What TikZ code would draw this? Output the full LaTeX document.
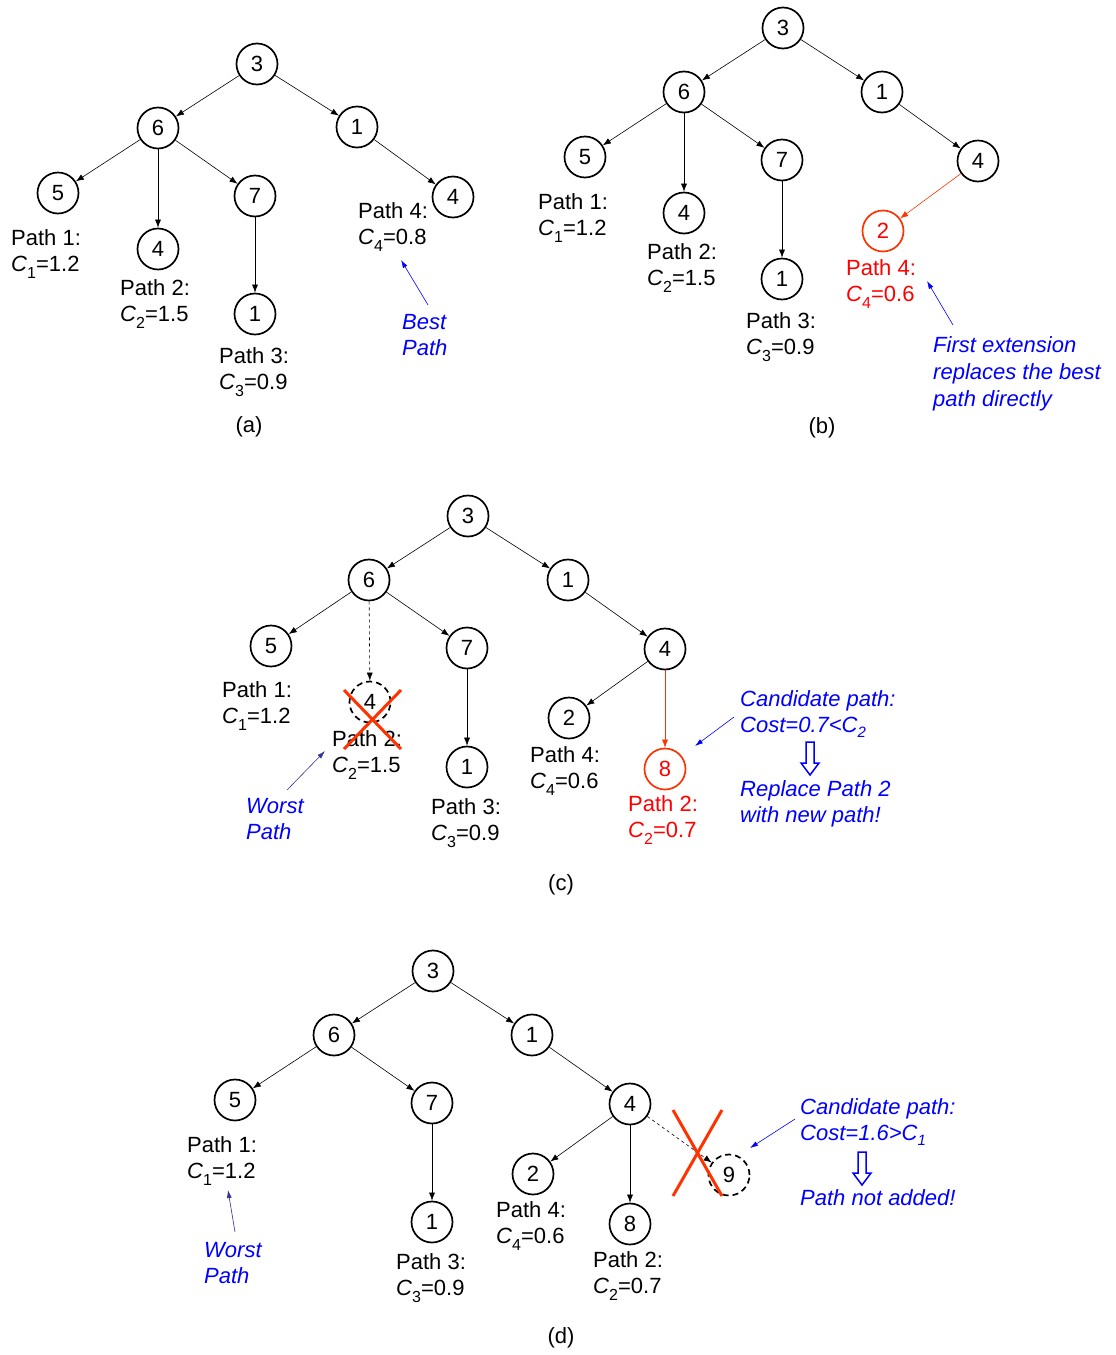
\documentclass[tikz,border=0pt]{standalone}
\usepackage{fontspec}
\setmainfont{Liberation Sans}
\usetikzlibrary{arrows.meta}
\definecolor{hotred}{RGB}{255,51,0}
\definecolor{txtred}{RGB}{255,0,0}
\definecolor{noteblue}{RGB}{0,0,255}
\definecolor{navyblue}{RGB}{51,51,153}
\newcommand\cval[2]{\textit{C}\raisebox{-7pt}{\fontsize{16}{16}\selectfont #1}=#2}
\newcommand\csub[1]{\raisebox{-5pt}{\fontsize{15}{15}\selectfont #1}}
\newcommand\hollowdown[1]{\draw[hollow] #1 -- ++(4,0) -- ++(0,21) -- ++(5,0) -- ++(-9,12) -- ++(-9,-12) -- ++(5,0) -- ++(0,-21) -- cycle;}

\begin{document}
\begin{tikzpicture}[x=1pt,y=-1pt,font=\fontsize{22}{26}\selectfont,
	vtx/.style={circle,draw,line width=1.7pt,minimum size=41pt,inner sep=0pt},
	vtxred/.style={vtx,draw=hotred,text=txtred},
	vtxdash/.style={vtx,dash pattern=on 6pt off 4pt},
	edge/.style={-{Latex[length=8pt,width=6pt]},line width=0.6pt},
	lbl/.style={anchor=north west,align=left,inner sep=0pt},
	note/.style={lbl,text=noteblue,font=\fontsize{22}{26}\selectfont\itshape},
	ptr/.style={-{Latex[length=8pt,width=5pt]},line width=0.6pt,noteblue},
	hollow/.style={draw=noteblue,line width=1.5pt,line join=miter},
	cross/.style={hotred,line width=3pt}]
	\useasboundingbox (0,0) rectangle (1116,1355);

	\node [vtx] (a3) at (257,64) {3};
	\node [vtx] (a6) at (158,128) {6};
	\node [vtx] (a1) at (357,127) {1};
	\node [vtx] (a5) at (58,193) {5};
	\node [vtx] (a4) at (158,249) {4};
	\node [vtx] (a7) at (255,196) {7};
	\node [vtx] (a71) at (255,314) {1};
	\node [vtx] (a14) at (453,197) {4};
	\draw [edge] (a3) -- (a6);
	\draw [edge] (a3) -- (a1);
	\draw [edge] (a6) -- (a5);
	\draw [edge] (a6) -- (a4);
	\draw [edge] (a6) -- (a7);
	\draw [edge] (a7) -- (a71);
	\draw [edge] (a1) -- (a14);
	\node [lbl] (aP1) at (11,229) {Path 1:\\\cval{1}{1.2}};
	\node [lbl] (aP2) at (120,279) {Path 2:\\\cval{2}{1.5}};
	\node [lbl] (aP3) at (219,347) {Path 3:\\\cval{3}{0.9}};
	\node [lbl] (aP4) at (358,202) {Path 4:\\\cval{4}{0.8}};
	\node [note] (aBest) at (402,314) {Best\\Path};
	\coordinate (aBestTip) at (401,260);
	\draw [ptr] (aBest.north west) ++(26,-9) -- (aBestTip);
	\node (aCap) at (249,427) {(a)};

	\node [vtx] (b3) at (783,28) {3};
	\node [vtx] (b6) at (684,92) {6};
	\node [vtx] (b1) at (882,92) {1};
	\node [vtx] (b5) at (585,157) {5};
	\node [vtx] (b4) at (684,213) {4};
	\node [vtx] (b7) at (782,160) {7};
	\node [vtx] (b71) at (782,279) {1};
	\node [vtx] (b14) at (978,161) {4};
	\node [vtxred] (b142) at (883,231) {2};
	\draw [edge] (b3) -- (b6);
	\draw [edge] (b3) -- (b1);
	\draw [edge] (b6) -- (b5);
	\draw [edge] (b6) -- (b4);
	\draw [edge] (b6) -- (b7);
	\draw [edge] (b7) -- (b71);
	\draw [edge] (b1) -- (b14);
	\draw [edge,hotred] (b14) -- (b142);
	\node [lbl] (bP1) at (538,193) {Path 1:\\\cval{1}{1.2}};
	\node [lbl] (bP2) at (647,243) {Path 2:\\\cval{2}{1.5}};
	\node [lbl] (bP3) at (746,312) {Path 3:\\\cval{3}{0.9}};
	\node [lbl,text=txtred] (bP4) at (846,259) {Path 4:\\\cval{4}{0.6}};
	\node [note,font=\fontsize{22}{27}\selectfont\itshape] (bFirst) at (933,336) {First extension\\replaces the best\\path directly};
	\coordinate (bFirstTip) at (927,281);
	\draw [ptr] (bFirst.north west) ++(20,-11) -- (bFirstTip);
	\node (bCap) at (822,428) {(b)};

	\node [vtx] (c3) at (468,516) {3};
	\node [vtx] (c6) at (369,580) {6};
	\node [vtx] (c1) at (568,580) {1};
	\node [vtx] (c5) at (271,646) {5};
	\node [vtxdash] (c4) at (370,702) {4};
	\node [vtx] (c7) at (467,648) {7};
	\node [vtx] (c71) at (467,767) {1};
	\node [vtx] (c14) at (665,649) {4};
	\node [vtx] (c142) at (569,718) {2};
	\node [vtxred] (c148) at (665,769) {8};
	\draw [edge] (c3) -- (c6);
	\draw [edge] (c3) -- (c1);
	\draw [edge] (c6) -- (c5);
	\draw [edge,dashed] (c6) -- (c4);
	\draw [edge] (c6) -- (c7);
	\draw [edge] (c7) -- (c71);
	\draw [edge] (c1) -- (c14);
	\draw [edge] (c14) -- (c142);
	\draw [edge,hotred] (c14) -- (c148);
	\node [lbl] (cP1) at (222,681) {Path 1:\\\cval{1}{1.2}};
	\node [lbl] (cP2) at (332,730) {Path 2:\\\cval{2}{1.5}};
	\node [lbl] (cP3) at (431,798) {Path 3:\\\cval{3}{0.9}};
	\node [lbl] (cP4) at (530,746) {Path 4:\\\cval{4}{0.6}};
	\node [lbl,text=txtred] (cP2new) at (628,795) {Path 2:\\\cval{2}{0.7}};
	\draw [cross] (344,690) -- (401,749);
	\draw [cross] (401,690) -- (344,749);
	\node [note] (cWorst) at (246,798) {Worst\\Path};
	\coordinate (cWorstTip) at (325,751);
	\draw [ptr,navyblue] (cWorst.north west) ++(41,-8) -- (cWorstTip);
	\node [note] (cCand) at (740,690) {Candidate path:\\Cost=0.7<C\csub{2}};
	\coordinate (cCandTip) at (695,746);
	\draw [ptr] (cCand.north west) ++(-6,27) -- (cCandTip);
	\hollowdown{(810,742)}
	\node [note] (cRepl) at (740,780) {Replace Path 2\\with new path!};
	\node (cCap) at (561,885) {(c)};

	\node [vtx] (d3) at (433,971) {3};
	\node [vtx] (d6) at (334,1035) {6};
	\node [vtx] (d1) at (532,1035) {1};
	\node [vtx] (d5) at (235,1100) {5};
	\node [vtx] (d7) at (432,1103) {7};
	\node [vtx] (d71) at (432,1222) {1};
	\node [vtx] (d14) at (630,1104) {4};
	\node [vtx] (d142) at (533,1174) {2};
	\node [vtx] (d148) at (630,1224) {8};
	\node [vtxdash] (d149) at (729,1175) {9};
	\draw [edge] (d3) -- (d6);
	\draw [edge] (d3) -- (d1);
	\draw [edge] (d6) -- (d5);
	\draw [edge] (d6) -- (d7);
	\draw [edge] (d7) -- (d71);
	\draw [edge] (d1) -- (d14);
	\draw [edge] (d14) -- (d142);
	\draw [edge] (d14) -- (d148);
	\draw [edge,dashed] (d14) -- (d149);
	\draw [cross] (673,1110) -- (722,1196);
	\draw [cross] (722,1110) -- (673,1196);
	\node [lbl] (dP1) at (187,1136) {Path 1:\\\cval{1}{1.2}};
	\node [lbl] (dP3) at (396,1253) {Path 3:\\\cval{3}{0.9}};
	\node [lbl] (dP4) at (496,1201) {Path 4:\\\cval{4}{0.6}};
	\node [lbl] (dP2) at (593,1251) {Path 2:\\\cval{2}{0.7}};
	\node [note] (dWorst) at (204,1242) {Worst\\Path};
	\coordinate (dWorstTip) at (228,1190);
	\draw [ptr,navyblue] (dWorst.north west) ++(31,-10) -- (dWorstTip);
	\node [note] (dCand) at (800,1098) {Candidate path:\\Cost=1.6>C\csub{1}};
	\coordinate (dCandTip) at (750,1148);
	\draw [ptr] (dCand.north west) ++(-5,21) -- (dCandTip);
	\hollowdown{(862,1152)}
	\node [note] (dNot) at (800,1189) {Path not added!};
	\node (dCap) at (561,1338) {(d)};
\end{tikzpicture}
\end{document}
